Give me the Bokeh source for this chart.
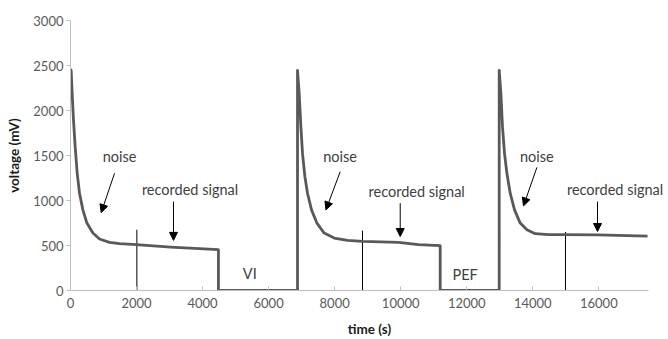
from bokeh.plotting import figure
from bokeh.models import Arrow, NormalHead, Label, FixedTicker
from bokeh.embed import file_html
from bokeh.resources import INLINE

# ---- data ----
# trace: time (s) and voltage (mV), including the switch-off periods (VI, PEF)
time_s = [0, 20, 51, 91, 142, 203, 273, 375, 497, 678, 878, 1181, 1484, 1990, 3030, 4480,
          4480, 6875,
          6875, 6926, 6977, 7026, 7099, 7178, 7299, 7462, 7683, 7986, 8389, 8843, 9934, 10539, 11196,
          11196, 12983,
          12983, 13034, 13083, 13144, 13216, 13316, 13447, 13619, 13822, 14073, 14476, 14882, 15960, 17475]
voltage_mv = [2460, 2445, 2187, 1892, 1596, 1302, 1081, 896, 749, 638, 572, 534, 520, 509, 482, 454,
              0, 0,
              2445, 2187, 1818, 1523, 1264, 1081, 896, 749, 638, 583, 557, 545, 534, 509, 498,
              0, 0,
              2445, 2187, 1818, 1523, 1302, 1081, 896, 749, 675, 631, 620, 620, 618, 604]

# thin vertical markers
marker_t = [2010, 8843, 14990]
marker_top = [675, 665, 650]

# "noise" labels and arrows
noise_t = [1485, 8162, 14124]
noise_mv = [1493, 1493, 1493]
noise_arrow_t0 = [1333, 8168, 14124]
noise_arrow_v0 = [1302, 1320, 1368]
noise_arrow_t1 = [930, 7735, 13719]
noise_arrow_v1 = [866, 896, 940]

# "recorded signal" labels and arrows
sig_t = [2162, 9025, 15033]
sig_mv = [1117, 1098, 1117]
sig_arrow_t = [3119, 9985, 15960]
sig_arrow_v0 = [988, 970, 988]
sig_arrow_v1 = [557, 600, 656]

# phase labels
phase_names = ["VI", "PEF"]
phase_t = [5430, 11950]
phase_mv = [185, 175]

x_ticks = [0, 2000, 4000, 6000, 8000, 10000, 12000, 14000, 16000]
y_ticks = [0, 500, 1000, 1500, 2000, 2500, 3000]

FONT = "Lato"
TXT = "#595959"
ANN = "#404040"

p = figure(width=668, height=339, output_backend="svg", toolbar_location=None,
           x_range=(0, 18110), y_range=(0, 3000),
           min_border_left=70, min_border_right=0, min_border_top=20, min_border_bottom=48)
p.outline_line_color = None
p.xgrid.visible = False
p.ygrid.visible = False
p.background_fill_color = "white"

for ax in (p.xaxis[0], p.yaxis[0]):
    ax.axis_line_color = "#bfbfbf"
    ax.major_tick_line_color = "#bfbfbf"
    ax.minor_tick_line_color = None
    ax.major_label_text_font = FONT
    ax.major_label_text_font_size = "13px"
    ax.major_label_text_color = TXT
    ax.axis_label_text_font = FONT
    ax.axis_label_text_font_style = "bold"
    ax.axis_label_text_font_size = "13.5px"
    ax.axis_label_text_color = "#1a1a1a"

p.xaxis.bounds = (0, 17500)
p.xaxis.major_tick_in = 4
p.xaxis.major_tick_out = 0
p.yaxis.major_tick_in = 0
p.yaxis.major_tick_out = 4
p.xaxis.ticker = FixedTicker(ticks=x_ticks)
p.yaxis.ticker = FixedTicker(ticks=y_ticks)
p.xaxis.axis_label = "time (s)"
p.yaxis.axis_label = "voltage (mV)"
p.xaxis.major_label_standoff = 7
p.yaxis.major_label_standoff = 3
p.xaxis.axis_label_standoff = 10
p.yaxis.axis_label_standoff = 8

# markers
p.segment(x0=marker_t, y0=[0] * len(marker_t), x1=marker_t, y1=marker_top,
          line_color="black", line_width=1)

# trace
p.line(time_s, voltage_mv, line_color="#595959", line_width=2.8, line_join="round")

# annotations
for i in range(3):
    p.add_layout(Label(x=noise_t[i], y=noise_mv[i], text="noise", text_font=FONT,
                       text_font_size="14.5px", text_color=ANN,
                       text_align="center", text_baseline="middle"))
    p.add_layout(Arrow(x_start=noise_arrow_t0[i], y_start=noise_arrow_v0[i],
                       x_end=noise_arrow_t1[i], y_end=noise_arrow_v1[i],
                       line_color="black", line_width=1,
                       end=NormalHead(size=8, fill_color="black", line_color="black")))
    p.add_layout(Label(x=sig_t[i], y=sig_mv[i], text="recorded signal", text_font=FONT,
                       text_font_size="14.5px", text_color=ANN,
                       text_align="left", text_baseline="middle"))
    p.add_layout(Arrow(x_start=sig_arrow_t[i], y_start=sig_arrow_v0[i],
                       x_end=sig_arrow_t[i], y_end=sig_arrow_v1[i],
                       line_color="black", line_width=1,
                       end=NormalHead(size=8, fill_color="black", line_color="black")))

for name, t, v in zip(phase_names, phase_t, phase_mv):
    p.add_layout(Label(x=t, y=v, text=name, text_font=FONT, text_font_size="14.5px",
                       text_color=ANN, text_align="center", text_baseline="middle"))

open("out.html", "w").write(file_html(p, INLINE))
